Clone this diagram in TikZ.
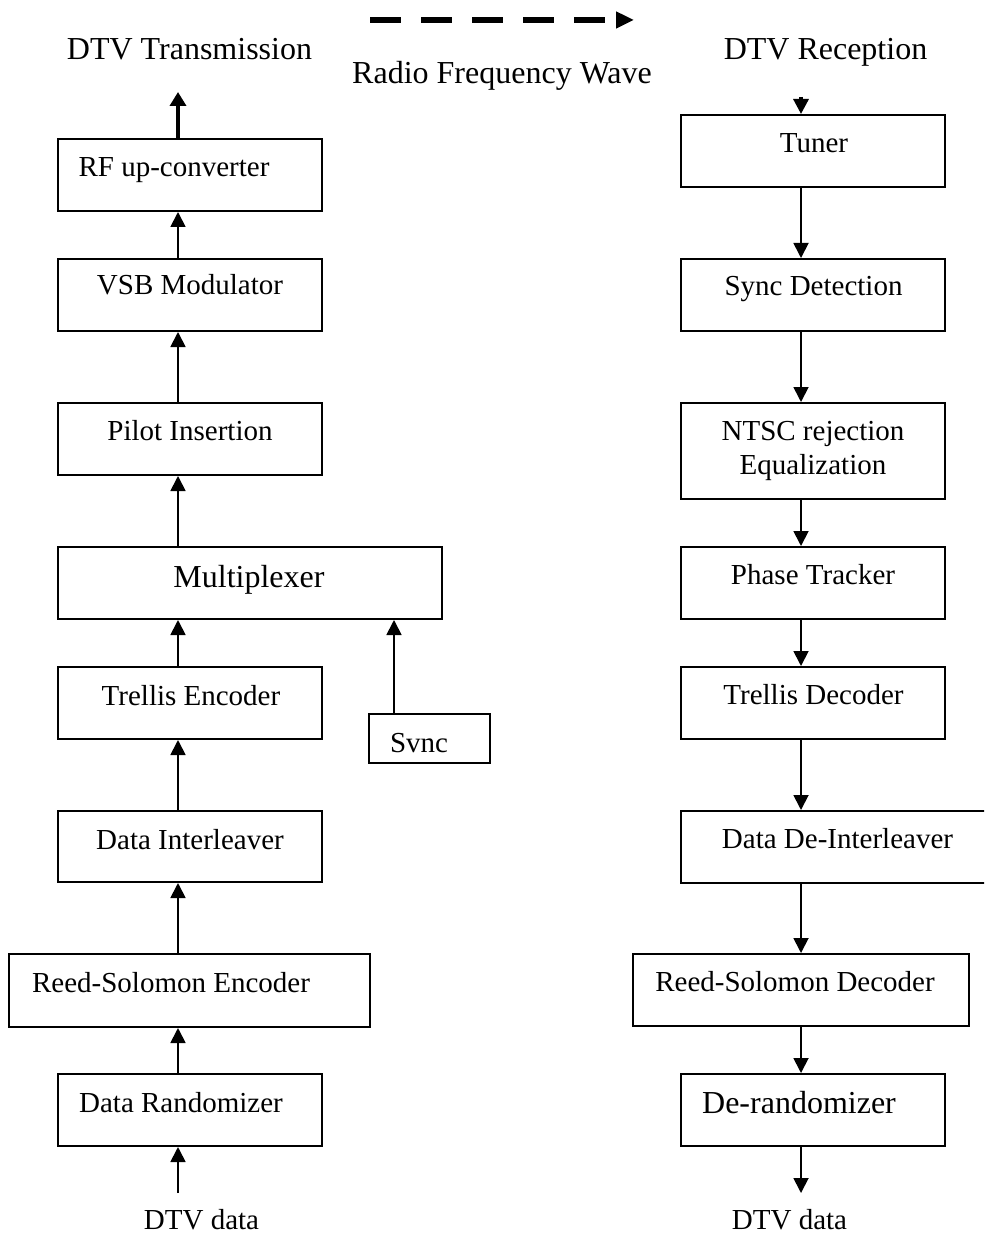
\documentclass[tikz,border=0pt]{standalone}
\usepackage{fontspec}
\setmainfont{Liberation Serif}
\usetikzlibrary{arrows.meta}
\begin{document}
\begin{tikzpicture}[x=0.5pt,y=-0.5pt,
 box/.style={draw,line width=1pt,inner sep=0pt,minimum width=132pt,minimum height=36pt},
 lbl/.style={anchor=base,inner sep=0pt,font=\fontsize{14.5}{17}\selectfont},
 big/.style={anchor=base,inner sep=0pt,font=\fontsize{16}{19}\selectfont},
 flow/.style={line width=0.9pt,-{Triangle[width=7.5pt,length=7.5pt]}},
 thickflow/.style={line width=2.2pt,-{Triangle[width=8pt,length=7pt]}},
 wave/.style={line width=3pt,dash pattern=on 15.5pt off 10pt,-{Triangle[width=8pt,length=9pt]}},
]
\useasboundingbox (0,0) rectangle (984,1235);
\clip (0,0) rectangle (984,1235);
\fill[white] (0,0) rectangle (984,1235);

% column axes
\coordinate (lx) at (178,0);
\coordinate (rx) at (801,0);

% headers
\node[big] (thead) at (189.5,60) {DTV Transmission};
\node[big] (rhead) at (825.5,60) {DTV Reception};
\node[big] (rfw) at (502,84) {Radio Frequency Wave};
\coordinate (w1) at (370,20);
\coordinate (w2) at (634,20);
\draw[wave] (w1) -- (w2);

% left column boxes
\node[box] (rf) at (190,175) {};
\node[box] (vsb) at (190,295) {};
\node[box] (pilot) at (190,439) {};
\node[box,minimum width=192pt] (mux) at (250,583) {};
\node[box] (tenc) at (190,703) {};
\node[box,minimum width=60.5pt,minimum height=24.5pt] (svnc) at (429.5,738.5) {};
\node[box,minimum height=35.5pt] (inter) at (190,846.5) {};
\node[box,minimum width=180.5pt,minimum height=36.5pt] (rse) at (189.5,990.5) {};
\node[box] (rand) at (190,1110) {};

% left labels
\node[lbl] (trf) at (174,177) {RF up-converter};
\node[lbl] (tvsb) at (190,295) {VSB Modulator};
\node[lbl] (tpilot) at (190,440) {Pilot Insertion};
\node[big] (tmux) at (249,587) {Multiplexer};
\node[lbl] (ttenc) at (191,705) {Trellis Encoder};
\node[lbl] (tsvnc) at (419,752) {Svnc};
\node[lbl] (tinter) at (190,849) {Data Interleaver};
\node[lbl] (trse) at (171,992) {Reed-Solomon Encoder};
\node[lbl] (trand) at (181,1112) {Data Randomizer};
\node[lbl] (tldata) at (201.5,1229) {DTV data};

% right column boxes
\node[box] (tuner) at (813,151) {};
\node[box] (sync) at (813,295) {};
\node[box,minimum height=48pt] (ntsc) at (813,451) {};
\node[box] (phase) at (813,583) {};
\node[box] (tdec) at (813,703) {};
\node[box,minimum width=160pt] (deint) at (841,847) {};
\node[box,minimum width=168pt] (rsd) at (801,990) {};
\node[box] (derand) at (813,1110) {};

% right labels
\node[lbl] (ttuner) at (814,153) {Tuner};
\node[lbl] (tsync) at (813.5,296) {Sync Detection};
\node[lbl] (tntsc1) at (813,440) {NTSC rejection};
\node[lbl] (tntsc2) at (813,474) {Equalization};
\node[lbl] (tphase) at (813,584) {Phase Tracker};
\node[lbl] (ttdec) at (813.5,704) {Trellis Decoder};
\node[lbl] (tdeint) at (837.5,848) {Data De-Interleaver};
\node[lbl] (trsd) at (795,991) {Reed-Solomon Decoder};
\node[big] (tderand) at (799,1113) {De-randomizer};
\node[lbl] (trdata) at (789.5,1229) {DTV data};

% left connectors
\coordinate (lin) at (178,1193);
\coordinate (lout) at (178,92);
\draw[flow] (lin) -- (rand.south -| lx);
\draw[flow] (rand.north -| lx) -- (rse.south -| lx);
\draw[flow] (rse.north -| lx) -- (inter.south -| lx);
\draw[flow] (inter.north -| lx) -- (tenc.south -| lx);
\draw[flow] (tenc.north -| lx) -- (mux.south -| lx);
\draw[flow] (svnc.north -| 394,0) -- (mux.south -| 394,0);
\draw[flow] (mux.north -| lx) -- (pilot.south -| lx);
\draw[flow] (pilot.north -| lx) -- (vsb.south -| lx);
\draw[flow] (vsb.north -| lx) -- (rf.south -| lx);
\draw[thickflow] (rf.north -| lx) -- (lout);

% right connectors
\coordinate (rin) at (801,97);
\coordinate (rout) at (801,1193);
\draw[flow,line width=1.6pt] (rin) -- (tuner.north -| rx);
\draw[flow] (tuner.south -| rx) -- (sync.north -| rx);
\draw[flow] (sync.south -| rx) -- (ntsc.north -| rx);
\draw[flow] (ntsc.south -| rx) -- (phase.north -| rx);
\draw[flow] (phase.south -| rx) -- (tdec.north -| rx);
\draw[flow] (tdec.south -| rx) -- (deint.north -| rx);
\draw[flow] (deint.south -| rx) -- (rsd.north -| rx);
\draw[flow] (rsd.south -| rx) -- (derand.north -| rx);
\draw[flow] (derand.south -| rx) -- (rout);
\end{tikzpicture}
\end{document}
